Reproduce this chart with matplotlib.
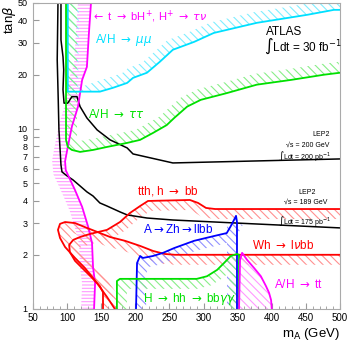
import numpy as np
import matplotlib.pyplot as plt
from matplotlib.patches import Polygon
from matplotlib.ticker import FixedLocator, MultipleLocator

plt.rcParams['font.family'] = ['Liberation Sans', 'DejaVu Sans']
plt.rcParams['hatch.linewidth'] = 0.8

# LEP2 limits
lep200_x = [91, 91, 94, 95, 94, 95.5, 101, 107, 114.5, 119, 129, 144, 163, 188, 196.6, 255, 500]
lep200_y = [50, 31.2, 25.1, 21.3, 16.5, 13.9, 13.9, 15.1, 15.1, 13.3, 11.5, 9.87, 8.69, 7.84, 7.26, 6.47, 6.81]
lep189_x = [86.6, 85.5, 87, 88, 91, 92.5, 100, 108.6, 119, 129, 138, 148, 158.5, 177.5, 188, 217, 255, 349, 500]
lep189_y = [50, 24.2, 14.5, 9.9, 6.3, 5.77, 5.48, 5.21, 4.82, 4.47, 4.24, 3.88, 3.73, 3.46, 3.33, 3.2, 3.12, 3.0, 2.82]

# t -> bH+
bh_x = [135, 132, 129, 122, 116, 107, 101, 97, 98, 111.5, 122, 131, 136.5, 138, 141, 139.5]
bh_y = [50, 34.1, 22.1, 18.7, 13.3, 10.3, 7.94, 6.6, 5.9, 4.58, 3.69, 2.85, 2.33, 1.71, 1.39, 1.0]

# A/H -> mumu
mumu_x = [101, 101, 148, 167, 188, 196.6, 217, 236, 255, 286, 315, 378, 452, 491, 500]
mumu_y = [50, 16.1, 16.1, 16.9, 18.0, 19.2, 20.5, 23.6, 27.5, 30.4, 34.1, 38.8, 43, 45.8, 45.8]

# A/H -> tautau
tautau_x = [98.4, 98.4, 101, 107, 119, 138, 158.5, 188, 207, 226, 246, 257, 276, 296, 334, 378, 428, 477, 500]
tautau_y = [50, 8.69, 7.94, 7.64, 7.45, 7.64, 7.94, 8.36, 8.69, 9.5, 10.5, 11.5, 13.3, 14.5, 15.8, 17.6, 18.7, 20, 20.5]

# tth, h -> bb
tth_x = [152.6, 152.6, 148, 136.5, 122, 111.6, 104, 103, 109, 119, 133.5, 158.5, 177.5, 192, 207, 218.6, 280, 292, 303.6, 317, 500]
tth_y = [1.0, 1.24, 1.34, 1.49, 1.69, 1.85, 2.07, 2.27, 2.42, 2.51, 2.61, 2.75, 3.04, 3.41, 3.73, 3.98, 4.03, 3.88, 3.64, 3.59, 3.59]

# Wh -> lnubb
wh_x = [170, 158.5, 144, 126, 111.6, 97, 89.6, 86.6, 89.6, 97, 111.6, 126, 144, 163, 185, 207, 226, 243.5, 258, 500]
wh_y = [1.0, 1.166, 1.39, 1.69, 1.92, 2.21, 2.48, 2.75, 2.97, 3.04, 3.0, 2.85, 2.68, 2.51, 2.39, 2.24, 2.1, 2.02, 2.0, 2.0]

# A -> Zh -> llbb
zh_x = [201, 202.5, 207, 211, 226, 240.6, 257, 286, 315, 334, 340, 344.6, 347.6, 349, 349]
zh_y = [1.0, 1.80, 1.97, 1.92, 1.97, 2.05, 2.18, 2.39, 2.54, 2.64, 2.89, 3.12, 3.29, 3.04, 1.0]

# H -> hh -> bbgamgam
hh_x = [173, 173, 177.5, 290, 305, 320, 330, 340, 349, 352, 352]
hh_y = [1.0, 1.43, 1.47, 1.47, 1.52, 1.65, 1.80, 1.97, 2.02, 2.0, 1.0]

# A/H -> tt
tt_x = [352, 353.5, 356.5, 364, 374, 384, 391.5, 396, 399, 400]
tt_y = [1.0, 1.87, 2.05, 1.87, 1.69, 1.52, 1.34, 1.23, 1.12, 1.0]

x_ticks = [50, 100, 150, 200, 250, 300, 350, 400, 450, 500]
y_ticks = [1, 2, 3, 4, 5, 6, 7, 8, 9, 10, 20, 30, 40, 50]

MAG, CYAN, GREEN, RED, BLUE = '#ff00ff', '#00e0ff', '#00e000', '#ff0000', '#0000ff'

fig = plt.figure(figsize=(3.48, 3.46), dpi=100)
ax = fig.add_axes([33 / 348, 1 - 309 / 346, 307 / 348, 306 / 346])
ax.set_xlim(50, 500)
ax.set_yscale('log')
ax.set_ylim(1, 50)


def band(x, y, width, side, color, hatch):
    # hatched strip along one side of a boundary curve, width in pixels
    pts = ax.transData.transform(np.column_stack([x, y]))
    t = np.gradient(pts, axis=0)
    t /= np.hypot(t[:, 0], t[:, 1])[:, None]
    n = np.column_stack([-t[:, 1], t[:, 0]]) * side * width
    poly = np.vstack([pts, (pts + n)[::-1]])
    ax.add_patch(Polygon(ax.transData.inverted().transform(poly), closed=True,
                         facecolor='none', edgecolor=color, lw=0, hatch=hatch))


band(bh_x, bh_y, 13, -1, '#ff99ff', '-----')
band(mumu_x, mumu_y, 11, 1, '#80eeff', '\\\\\\\\')
band(tautau_x, tautau_y, 11, 1, '#88ee88', '\\\\\\\\')
band(tth_x, tth_y, 10, -1, '#ff9090', '\\\\\\\\')
band(wh_x, wh_y, 10, -1, '#ff9090', '\\\\\\\\')
band(zh_x, zh_y, 10, -1, '#9090ff', '\\\\\\\\')
band(hh_x, hh_y, 10, -1, '#88ee88', '\\\\\\\\')
ax.fill(tt_x, tt_y, facecolor='none', edgecolor='#ff99ff', lw=0, hatch='\\\\\\\\')

ax.plot(lep200_x, lep200_y, color='black', lw=1.1)
ax.plot(lep189_x, lep189_y, color='black', lw=1.1)
ax.plot(bh_x, bh_y, color=MAG, lw=1.3)
ax.plot(mumu_x, mumu_y, color=CYAN, lw=1.3)
ax.plot(tautau_x, tautau_y, color=GREEN, lw=1.3)
ax.plot(tth_x, tth_y, color=RED, lw=1.3)
ax.plot(wh_x, wh_y, color=RED, lw=1.3)
ax.plot(zh_x, zh_y, color=BLUE, lw=1.3)
ax.plot(hh_x, hh_y, color=GREEN, lw=1.3)
ax.plot(tt_x, tt_y, color=MAG, lw=1.3)

fs = 8.5
ax.text(135, 41.9, r'$\leftarrow$ t $\rightarrow$ bH$^{+}$, H$^{+}$ $\rightarrow$ $\tau\nu$',
        color=MAG, fontsize=8, va='center')
ax.text(141, 31.2, r'A/H $\rightarrow$ $\mu\mu$', color=CYAN, fontsize=fs, va='center')
ax.text(130.6, 11.96, r'A/H $\rightarrow$ $\tau\tau$', color=GREEN, fontsize=fs, va='center')
ax.text(202.5, 4.52, r'tth, h $\rightarrow$ bb', color=RED, fontsize=fs, va='center')
ax.text(211, 2.75, r'A$\rightarrow$Zh$\rightarrow$llbb', color=BLUE, fontsize=fs, va='center')
ax.text(371, 2.24, r'Wh $\rightarrow$ l$\nu$bb', color=RED, fontsize=fs, va='center')
ax.text(211, 1.14, r'H $\rightarrow$ hh $\rightarrow$ bb$\gamma\gamma$', color=GREEN, fontsize=fs, va='center')
ax.text(403, 1.36, r'A/H $\rightarrow$ tt', color=MAG, fontsize=fs, va='center')

ax.text(391.5, 34.6, 'ATLAS', fontsize=8.5, va='center')
ax.text(388.6, 28.8, '\u222bLdt = 30 fb$^{-1}$', fontsize=8.5, va='center')

ax.text(472, 9.3, 'LEP2', fontsize=5, ha='center', va='center')
ax.text(485, 8.15, '\u221as = 200 GeV', fontsize=5, ha='right', va='center')
ax.text(487, 7.1, '\u222bLdt = 200 pb$^{-1}$', fontsize=5, ha='right', va='center')
ax.text(452, 4.41, 'LEP2', fontsize=5, ha='center', va='center')
ax.text(481, 3.93, '\u221as = 189 GeV', fontsize=5, ha='right', va='center')
ax.text(487, 3.08, '\u222bLdt = 175 pb$^{-1}$', fontsize=5, ha='right', va='center')

ax.xaxis.set_major_locator(FixedLocator(x_ticks))
ax.xaxis.set_minor_locator(MultipleLocator(10))
ax.set_xticklabels([str(v) for v in x_ticks])
ax.yaxis.set_major_locator(FixedLocator(y_ticks))
ax.yaxis.set_minor_locator(FixedLocator([]))
ax.set_yticklabels([str(v) for v in y_ticks])
ax.tick_params(which='major', direction='in', length=4, color='#999999', labelsize=7, pad=3)
ax.tick_params(which='minor', direction='in', length=2.5, color='#999999')
ax.tick_params(axis='y', pad=4, labelsize=6.5)
for s in ax.spines.values():
    s.set_color('#aaaaaa')

ax.set_xlabel(r'm$_{\rm A}$ (GeV)', loc='right', fontsize=9.5, labelpad=2)
fig.text(9 / 348, 1 - 6 / 346, r'tan$\beta$', rotation=90, ha='center', va='top', fontsize=9.5)

fig.savefig('out.png', dpi=100)
